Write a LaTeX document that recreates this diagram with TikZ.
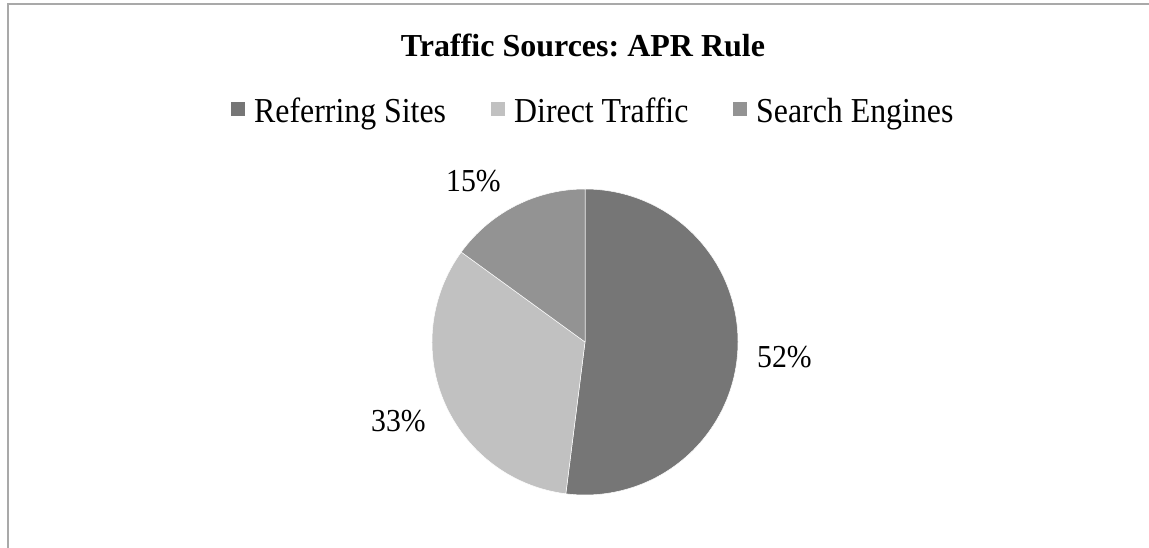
\documentclass[tikz,border=0pt]{standalone}
\usepackage{fontspec}
\setmainfont{Liberation Serif}
\frenchspacing
% slightly condensed serif for legend entries and data labels
\newfontfamily\legendserif[FakeStretch=0.91]{Liberation Serif}
\newfontfamily\labelserif[FakeStretch=0.93]{Liberation Serif}
\definecolor{refcol}{HTML}{767676}
\definecolor{dircol}{HTML}{C1C1C1}
\definecolor{seacol}{HTML}{939393}
\definecolor{framecol}{HTML}{A9A9A9}
\tikzset{
  slice/.style={draw=white, line width=0.5pt, line join=round},
  legendbox/.style={inner sep=0pt, minimum size=14pt, draw=none},
  legendtext/.style={anchor=base west, inner sep=0pt, font=\legendserif\fontsize{35}{40}\selectfont},
  pctlabel/.style={anchor=base west, inner sep=0pt, font=\labelserif\fontsize{32}{38}\selectfont},
  titletext/.style={anchor=base, inner sep=0pt, font=\fontsize{32}{38}\selectfont\bfseries},
}
\begin{document}
\begin{tikzpicture}[x=1pt, y=1pt]
  \useasboundingbox (0,0) rectangle (1149,-548);
  \fill[white] (0,0) rectangle (1149,-548);

  % chart frame (top and left edges)
  \draw[framecol, line width=2pt] (8,-548) -- (8,-4) -- (1149,-4);

  % title
  \node[titletext] (title) at (583,-57) {Traffic Sources: APR Rule};

  % legend
  \node[legendbox, fill=refcol, anchor=north west] (k1) at (231,-102) {};
  \node[legendtext] (l1) at (254,-123) {Referring Sites};
  \node[legendbox, fill=dircol, anchor=north west] (k2) at (491,-102) {};
  \node[legendtext] (l2) at (514,-123) {Direct Traffic};
  \node[legendbox, fill=seacol, anchor=north west] (k3) at (733,-102) {};
  \node[legendtext] (l3) at (756,-123) {Search Engines};

  % pie slices, clockwise from the top
  \coordinate (c) at (585,-342);
  \filldraw[slice, fill=refcol] (c) -- ++(90:153pt) arc[start angle=90, end angle=-97.2, radius=153pt] -- cycle;
  \filldraw[slice, fill=dircol] (c) -- ++(-97.2:153pt) arc[start angle=-97.2, end angle=-216, radius=153pt] -- cycle;
  \filldraw[slice, fill=seacol] (c) -- ++(-216:153pt) arc[start angle=-216, end angle=-270, radius=153pt] -- cycle;

  % data labels
  \node[pctlabel] (p15) at (446,-192) {15\%};
  \node[pctlabel] (p52) at (757,-367) {52\%};
  \node[pctlabel] (p33) at (371,-431) {33\%};
\end{tikzpicture}
\end{document}
